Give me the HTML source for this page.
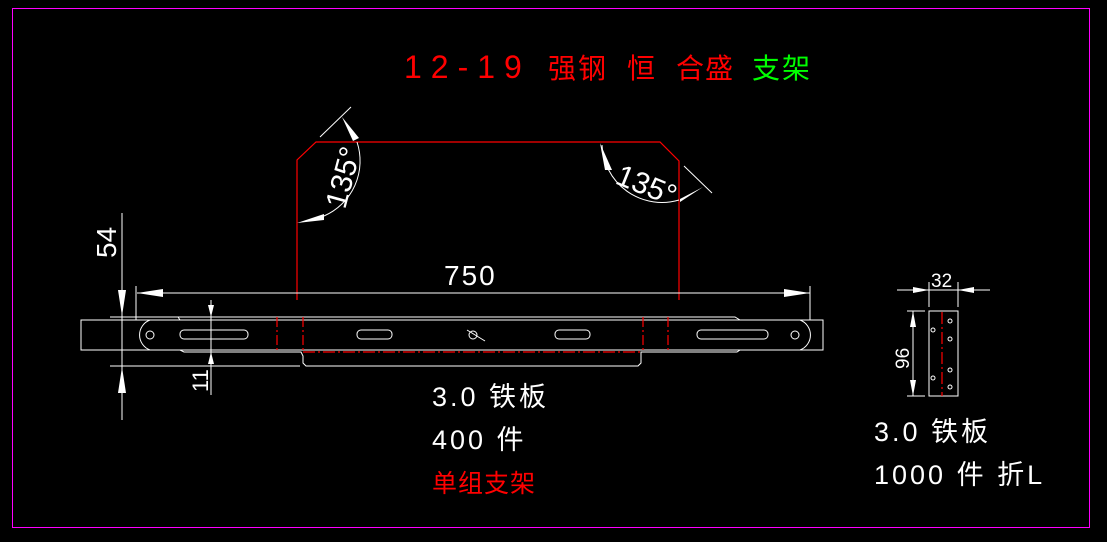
<!DOCTYPE html>
<html><head><meta charset="utf-8"><style>
html,body{margin:0;padding:0;background:#000;}
svg{display:block}
text{font-family:"Liberation Sans","Noto Sans CJK SC",sans-serif;font-weight:normal}
</style></head><body>
<svg width="1107" height="542" viewBox="0 0 1107 542">
<rect x="0" y="0" width="1107" height="542" fill="#000"/>
<rect x="12.5" y="8.5" width="1077" height="519" fill="none" stroke="#ff00ff" stroke-width="1"/>
<text x="404" y="78" fill="#ff0000" font-size="32" letter-spacing="9">12-19</text>
<text x="548" y="78" fill="#ff0000" font-size="28" letter-spacing="2">强钢</text>
<text x="627" y="78" fill="#ff0000" font-size="28">恒</text>
<text x="676" y="78" fill="#ff0000" font-size="28" letter-spacing="1">合盛</text>
<text x="752" y="78" fill="#00ff00" font-size="28" letter-spacing="2">支架</text>

<polyline points="297,300 297,160 316,142 660,142 679,161 679,300" fill="none" stroke="#ff0000" stroke-width="1.2"/>
<g stroke="#fff" stroke-width="1" fill="none">
<line x1="320" y1="137" x2="351" y2="107"/>
<path d="M357,142 A60,60 0 0 1 324,216"/>
<line x1="684" y1="166" x2="712" y2="193"/>
<path d="M602,145 A60,60 0 0 0 679,200"/>
</g>
<g fill="#fff">
<polygon points="342,117 359,138 353,141"/>
<polygon points="297,223 324,214 324,220"/>
<polygon points="600,143 612,170 605,170"/>
<polygon points="680,199 703,187 680,202"/>
</g>
<text transform="translate(345,210) rotate(-75)" fill="#fff" font-size="30">135°</text>
<text transform="translate(614,183) rotate(22)" fill="#fff" font-size="30">135°</text>

<g stroke="#fff" stroke-width="1" fill="none">
<line x1="137" y1="293" x2="810" y2="293"/>
<line x1="136" y1="286" x2="136" y2="320"/>
<line x1="810" y1="286" x2="810" y2="320"/>
<line x1="122" y1="213" x2="122" y2="420"/>
<line x1="110" y1="317" x2="180" y2="317"/>
<line x1="110" y1="366" x2="300" y2="366"/>
<line x1="211" y1="300" x2="211" y2="395"/>
</g>
<g fill="#fff">
<polygon points="137,293 163,289 163,297"/>
<polygon points="810,293 784,289 784,297"/>
<polygon points="122,316 118,290 126,290"/>
<polygon points="122,367 118,393 126,393"/>
<polygon points="211,317 208,305 214,305"/>
<polygon points="211,352 208,364 214,364"/>
</g>
<text transform="translate(116,258) rotate(-90)" fill="#fff" font-size="28">54</text>
<text transform="translate(208,392) rotate(-90)" fill="#fff" font-size="22">11</text>
<text x="444" y="285" fill="#fff" font-size="28" letter-spacing="2">750</text>

<g stroke="#fff" stroke-width="1" fill="none">
<rect x="81" y="320" width="742" height="30"/>
<path d="M178,317 L184,317 L660,317 L735,317 L740,320"/>
<path d="M178,317 L180,320"/>
<path d="M180,350 L184,352 L301,352 L303,356 L303,363 L306,366 L638,366 L641,363 L641,352 L737,352 L740,350"/>
<path d="M150,320 A16,16 0 0 0 150,350"/>
<path d="M800,320 A16,16 0 0 1 800,350"/>
<circle cx="150" cy="335" r="4"/>
<circle cx="795" cy="335" r="4"/>
<rect x="180" y="330" width="68" height="9" rx="4"/>
<rect x="357" y="330" width="35" height="9" rx="4"/>
<rect x="555" y="330" width="35" height="9" rx="4"/>
<rect x="697" y="330" width="71" height="9" rx="4"/>
<circle cx="473" cy="335" r="4"/>
<line x1="467" y1="330" x2="485" y2="341"/>
</g>
<g stroke="#ff0000" stroke-width="1.2" fill="none">
<line x1="303" y1="352" x2="642" y2="352" stroke-dasharray="12,3,2,3"/>
<line x1="277" y1="317" x2="277" y2="352" stroke-dasharray="10,3,2,3"/>
<line x1="303" y1="317" x2="303" y2="352" stroke-dasharray="10,3,2,3"/>
<line x1="643" y1="317" x2="643" y2="352" stroke-dasharray="10,3,2,3"/>
<line x1="668" y1="317" x2="668" y2="352" stroke-dasharray="10,3,2,3"/>
</g>

<text x="432" y="406" fill="#fff" font-size="27" letter-spacing="3">3.0 铁板</text>
<text x="432" y="449" fill="#fff" font-size="27" letter-spacing="3">400 件</text>
<text x="432" y="492" fill="#ff0000" font-size="25" letter-spacing="1">单组支架</text>

<g stroke="#fff" stroke-width="1" fill="none">
<rect x="929" y="311" width="29" height="85"/>
<line x1="897" y1="290" x2="990" y2="290"/>
<line x1="929" y1="282" x2="929" y2="307"/>
<line x1="958" y1="282" x2="958" y2="307"/>
<line x1="907" y1="311" x2="925" y2="311"/>
<line x1="907" y1="396" x2="925" y2="396"/>
<line x1="913" y1="311" x2="913" y2="396"/>
<circle cx="950" cy="321" r="2"/><circle cx="950" cy="339" r="2"/>
<circle cx="950" cy="370" r="2"/><circle cx="950" cy="387" r="2"/>
<circle cx="933" cy="330" r="2"/><circle cx="933" cy="378" r="2"/>
</g>
<g fill="#fff">
<polygon points="929,290 913,287 913,293"/>
<polygon points="958,290 974,287 974,293"/>
<polygon points="913,311 910,327 916,327"/>
<polygon points="913,396 910,380 916,380"/>
</g>
<line x1="942" y1="312" x2="942" y2="396" stroke="#ff0000" stroke-width="1.2" stroke-dasharray="12,3,2,3"/>
<text x="931" y="287" fill="#fff" font-size="19">32</text>
<text transform="translate(909,369) rotate(-90)" fill="#fff" font-size="19">96</text>

<text x="874" y="441" fill="#fff" font-size="27" letter-spacing="3">3.0 铁板</text>
<text x="874" y="484" fill="#fff" font-size="27" letter-spacing="3">1000 件 折L</text>
</svg>
</body></html>
